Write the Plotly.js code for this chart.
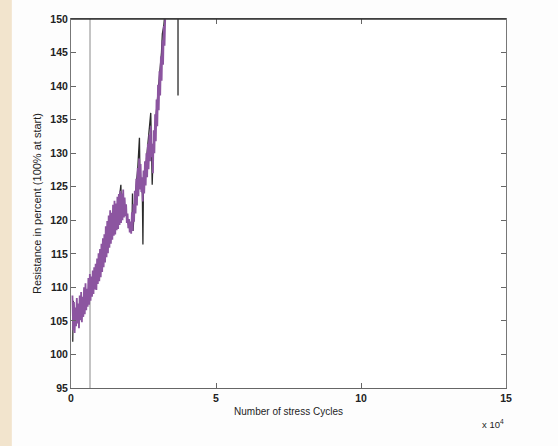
<!DOCTYPE html>
<html>
<head>
<meta charset="utf-8">
<script src="https://cdn.plot.ly/plotly-3.0.1.min.js"></script>
<style>
  html, body { margin: 0; padding: 0; background: #fdfdfd; }
  #chart { width: 558px; height: 446px; }
</style>
</head>
<body>
<div id="chart"></div>
<script>
// Stress cycles (x 10^4) and resistance in percent
const purpleX = [0.050,0.075,0.100,0.125,0.150,0.175,0.200,0.225,0.250,0.275,0.300,0.325,0.350,0.375,0.400,0.425,0.450,0.475,0.500,0.525,0.550,0.575,0.600,0.625,0.650,0.675,0.700,0.725,0.750,0.775,0.800,0.825,0.850,0.875,0.900,0.925,0.950,0.975,1.000,1.025,1.050,1.075,1.100,1.125,1.150,1.175,1.200,1.225,1.250,1.275,1.300,1.325,1.350,1.375,1.400,1.425,1.450,1.475,1.500,1.525,1.550,1.575,1.600,1.625,1.650,1.675,1.700,1.725,1.750,1.775,1.800,1.825,1.850,1.875,1.900,1.925,1.950,1.975,2.000,2.025,2.050,2.075,2.100,2.125,2.150,2.175,2.200,2.225,2.250,2.275,2.300,2.325,2.350,2.375,2.400,2.425,2.450,2.475,2.500,2.525,2.550,2.575,2.600,2.625,2.650,2.675,2.700,2.725,2.750,2.775,2.800,2.825,2.850,2.875,2.900,2.925,2.950,2.975,3.000,3.025,3.050,3.075,3.100,3.125,3.150,3.175,3.200,3.225,3.250];
const purpleY = [108.8,103.6,107.8,103.2,107.0,104.2,108.4,104.6,107.6,103.9,108.8,105.1,109.3,104.8,108.6,105.6,110.0,106.0,110.6,106.6,109.8,107.1,111.4,107.4,112.0,108.0,111.6,108.6,112.5,109.0,113.0,109.7,113.5,109.6,114.3,110.5,115.1,110.9,115.7,111.5,116.5,112.3,117.3,113.0,117.9,113.7,119.1,114.5,119.9,115.1,120.7,115.9,121.5,116.5,121.1,117.1,122.3,117.7,122.9,117.9,122.5,118.5,123.5,118.7,123.9,119.3,124.4,119.6,124.0,120.0,124.6,120.4,123.4,120.6,122.4,119.6,121.0,118.8,120.2,118.2,119.8,118.0,121.2,118.4,122.4,119.8,124.4,121.0,126.2,122.2,127.8,123.6,129.2,124.6,128.4,124.2,126.4,122.8,127.4,124.0,128.8,125.2,130.0,126.4,131.4,127.6,132.8,128.8,134.0,129.4,131.4,127.0,133.4,130.0,135.8,131.8,138.0,134.0,140.2,136.4,142.2,138.6,144.4,140.8,146.8,143.2,149.0,146.0,150.4];

const blackX = [0.06,0.08,0.15,0.25,0.35,0.45,0.55,0.65,0.75,0.85,0.95,1.05,1.15,1.25,1.35,1.45,1.55,1.65,1.72,1.74,1.80,1.90,2.00,2.10,2.12,2.14,2.20,2.30,2.36,2.38,2.46,2.48,2.50,2.60,2.70,2.75,2.78,2.80,2.84,2.95,3.05,3.12,3.15,3.20,3.24,3.69,3.69];
const blackY = [101.9,108.0,105.0,107.5,106.0,109.0,108.0,110.8,110.0,112.0,113.0,115.0,116.2,118.0,119.0,121.0,121.4,122.6,125.3,121.0,123.0,121.0,119.0,118.6,124.0,118.4,123.0,127.6,132.3,126.0,124.0,116.4,126.0,129.0,133.0,136.0,130.0,125.3,131.0,136.5,141.5,145.0,147.8,149.0,151.0,151.0,138.6];

const markerX = [0.655,0.655];
const markerY = [150,95];

const xTicks = [0,5,10,15];
const yTicks = [95,100,105,110,115,120,125,130,135,140,145,150];

const traces = [
  {x: markerX, y: markerY, mode: 'lines', line: {color: '#8a8a8a', width: 1}, hoverinfo: 'skip'},
  {x: blackX, y: blackY, mode: 'lines', line: {color: '#2a2a2a', width: 1.3}, hoverinfo: 'skip'},
  {x: purpleX, y: purpleY, mode: 'lines', line: {color: '#8c55a0', width: 1.8}, hoverinfo: 'skip'}
];

const fontFam = 'Liberation Sans, Arial, sans-serif';
const tickFont = {family: fontFam, size: 10.5, color: '#222', weight: 'bold'};
const layout = {
  width: 558, height: 446,
  margin: {l: 71, r: 52, t: 19, b: 58},
  paper_bgcolor: '#fdfdfd',
  plot_bgcolor: '#ffffff',
  showlegend: false,
  font: {family: fontFam, size: 10, color: '#1e1e1e'},
  xaxis: {
    range: [0, 15], tickvals: xTicks, ticktext: xTicks.map(String),
    ticks: 'inside', ticklen: 5, tickcolor: '#666',
    showline: true, linecolor: '#666', linewidth: 1, mirror: 'ticks',
    showgrid: false, zeroline: false,
    tickfont: tickFont,
    title: {text: 'Number of stress Cycles', font: {family: fontFam, size: 10, color: '#1e1e1e'}, standoff: 5}
  },
  yaxis: {
    range: [95, 150], tickvals: yTicks, ticktext: yTicks.map(String),
    ticks: 'inside', ticklen: 5, tickcolor: '#666',
    showline: true, linecolor: '#777', linewidth: 1, mirror: 'ticks',
    showgrid: false, zeroline: false,
    tickfont: tickFont,
    title: {text: 'Resistance in percent (100% at start)', font: {family: fontFam, size: 11, color: '#1e1e1e'}, standoff: 6}
  },
  shapes: [
    {type: 'rect', xref: 'paper', yref: 'paper', x0: -0.1632, x1: -0.136, y0: -0.2, y1: 1.06,
     fillcolor: '#f2e4cd', line: {width: 0}, layer: 'below'},
    {type: 'line', xref: 'paper', yref: 'paper', x0: 0, x1: 1, y0: 1, y1: 1,
     line: {color: '#333', width: 1.5}}
  ],
  annotations: [
    {xref: 'paper', yref: 'paper', x: 1.0, y: -0.075, xanchor: 'right', yanchor: 'top',
     text: 'x 10<sup>4</sup>', showarrow: false, font: {family: fontFam, size: 9.5, color: '#1e1e1e'}}
  ]
};

Plotly.newPlot('chart', traces, layout, {displayModeBar: false, staticPlot: true});
</script>
</body>
</html>
